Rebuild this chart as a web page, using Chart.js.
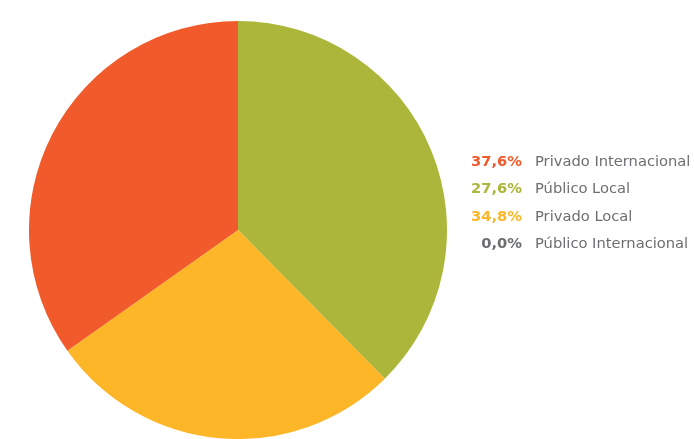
<!DOCTYPE html>
<html>
<head>
<meta charset="utf-8">
<script src="https://cdn.jsdelivr.net/npm/chart.js@4"></script>
<style>
  html, body { margin: 0; padding: 0; background: #ffffff; }
  #wrap { position: relative; width: 694px; height: 439px; }
  #chartBox { position: absolute; left: 0; top: 0; width: 476px; height: 439px; }
  #legend { position: absolute; left: 440px; top: 147px; font-family: "DejaVu Sans", sans-serif; font-size: 14.7px; }
  #legend table { border-collapse: collapse; }
  #legend td { padding: 0; height: 27.3px; line-height: 27.3px; white-space: nowrap; }
  #legend td.pct { font-weight: bold; text-align: right; width: 82px; padding-right: 13px; }
  #legend td.lbl { color: #6d6e71; }
</style>
</head>
<body>
<div id="wrap">
  <div id="chartBox"><canvas id="c"></canvas></div>
  <div id="legend"></div>
</div>
<script>
const categories = ["Privado Internacional", "Público Local", "Privado Local", "Público Internacional"];
const percentLabels = ["37,6%", "27,6%", "34,8%", "0,0%"];
const values = [37.6, 27.6, 34.8, 0.0];
const sliceColors = ["#acb63a", "#fdb627", "#f15a2b", "#6d6e71"];
const legendColors = ["#f15a2b", "#acb63a", "#fdb627", "#6d6e71"];

new Chart(document.getElementById('c'), {
  type: 'pie',
  data: {
    labels: categories,
    datasets: [{
      data: values,
      backgroundColor: sliceColors,
      borderWidth: 0,
      hoverOffset: 0
    }]
  },
  options: {
    responsive: true,
    maintainAspectRatio: false,
    animation: false,
    layout: { padding: { top: 21, bottom: 0, left: 0, right: 0 } },
    plugins: {
      legend: { display: false },
      tooltip: { enabled: false }
    }
  }
});

const tbl = document.createElement('table');
categories.forEach((name, i) => {
  const tr = document.createElement('tr');
  const p = document.createElement('td');
  p.className = 'pct';
  p.style.color = legendColors[i];
  p.textContent = percentLabels[i];
  const l = document.createElement('td');
  l.className = 'lbl';
  l.textContent = name;
  tr.appendChild(p); tr.appendChild(l);
  tbl.appendChild(tr);
});
document.getElementById('legend').appendChild(tbl);
</script>
</body>
</html>
